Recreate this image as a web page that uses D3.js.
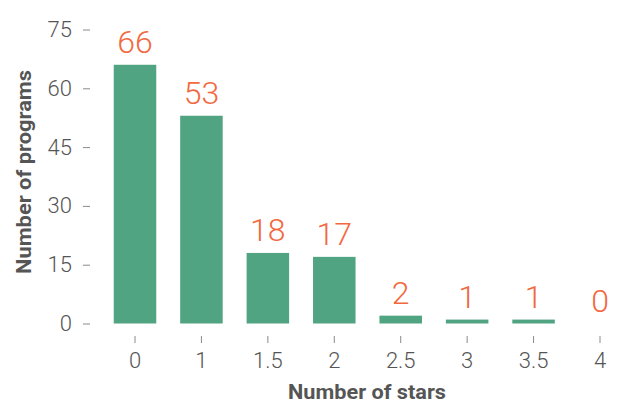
<!DOCTYPE html>
<html>
<head>
<meta charset="utf-8">
<script src="https://cdn.jsdelivr.net/npm/d3@7"></script>
<style>
  html, body { margin: 0; padding: 0; background: #ffffff; }
  svg { display: block; }
</style>
</head>
<body>
<svg id="chart" width="619" height="407"></svg>
<script>
const categories = ["0", "1", "1.5", "2", "2.5", "3", "3.5", "4"];
const values = [66, 53, 18, 17, 2, 1, 1, 0];
const yTicks = [0, 15, 30, 45, 60, 75];
const xTitle = "Number of stars";
const yTitle = "Number of programs";

const svg = d3.select("#chart");

const barColor = "#50a482";
const labelColor = "#f2693f";
const textColor = "#555555";
const tickColor = "#8a8a8a";
const tickFont = "Roboto, 'Open Sans', sans-serif";
const titleFont = "'Liberation Sans Narrow', 'Roboto', 'Liberation Sans', sans-serif";

const step = (600 - 135) / 7;
const x = d3.scaleBand()
  .domain(categories)
  .range([135 - step / 2, 600 + step / 2])
  .paddingInner(0.36)
  .paddingOuter(0.18);

const y = d3.scaleLinear().domain([0, 75]).range([323.5, 29.5]);

// Y axis
const gy = svg.append("g")
  .attr("transform", "translate(90,0)")
  .call(d3.axisLeft(y).tickValues(yTicks).tickSize(7).tickPadding(11));
gy.select(".domain").remove();
gy.selectAll(".tick line").attr("stroke", tickColor).attr("stroke-width", 1);
gy.selectAll(".tick text")
  .attr("fill", textColor)
  .style("font-family", tickFont)
  .style("font-weight", 300)
  .style("font-size", "22px");

// X axis
const gx = svg.append("g")
  .attr("transform", "translate(0,336)")
  .call(d3.axisBottom(x).tickSize(7).tickPadding(9));
gx.select(".domain").remove();
gx.selectAll(".tick line").attr("stroke", tickColor).attr("stroke-width", 1);
gx.selectAll(".tick text")
  .attr("fill", textColor)
  .style("font-family", tickFont)
  .style("font-weight", 300)
  .style("font-size", "22px");

// Bars
const data = categories.map((c, i) => ({ c, v: values[i] }));
svg.append("g").selectAll("rect")
  .data(data)
  .join("rect")
  .attr("x", d => x(d.c))
  .attr("y", d => y(d.v))
  .attr("width", x.bandwidth())
  .attr("height", d => y(0) - y(d.v))
  .attr("fill", barColor);

// Value labels
svg.append("g").selectAll("text")
  .data(data)
  .join("text")
  .attr("x", d => x(d.c) + x.bandwidth() / 2)
  .attr("y", d => y(d.v) - 12)
  .attr("text-anchor", "middle")
  .attr("fill", labelColor)
  .style("font-family", tickFont)
  .style("font-weight", 300)
  .style("font-size", "32px")
  .text(d => d.v);

// Axis titles
svg.append("text")
  .attr("x", 367)
  .attr("y", 399)
  .attr("text-anchor", "middle")
  .attr("fill", textColor)
  .style("font-family", titleFont)
  .style("font-weight", 700)
  .style("font-size", "21px")
  .attr("textLength", 158)
  .attr("lengthAdjust", "spacingAndGlyphs")
  .text(xTitle);

svg.append("text")
  .attr("transform", "translate(31,172) rotate(-90)")
  .attr("text-anchor", "middle")
  .attr("fill", textColor)
  .style("font-family", titleFont)
  .style("font-weight", 700)
  .style("font-size", "21px")
  .attr("textLength", 204)
  .attr("lengthAdjust", "spacingAndGlyphs")
  .text(yTitle);
</script>
</body>
</html>
